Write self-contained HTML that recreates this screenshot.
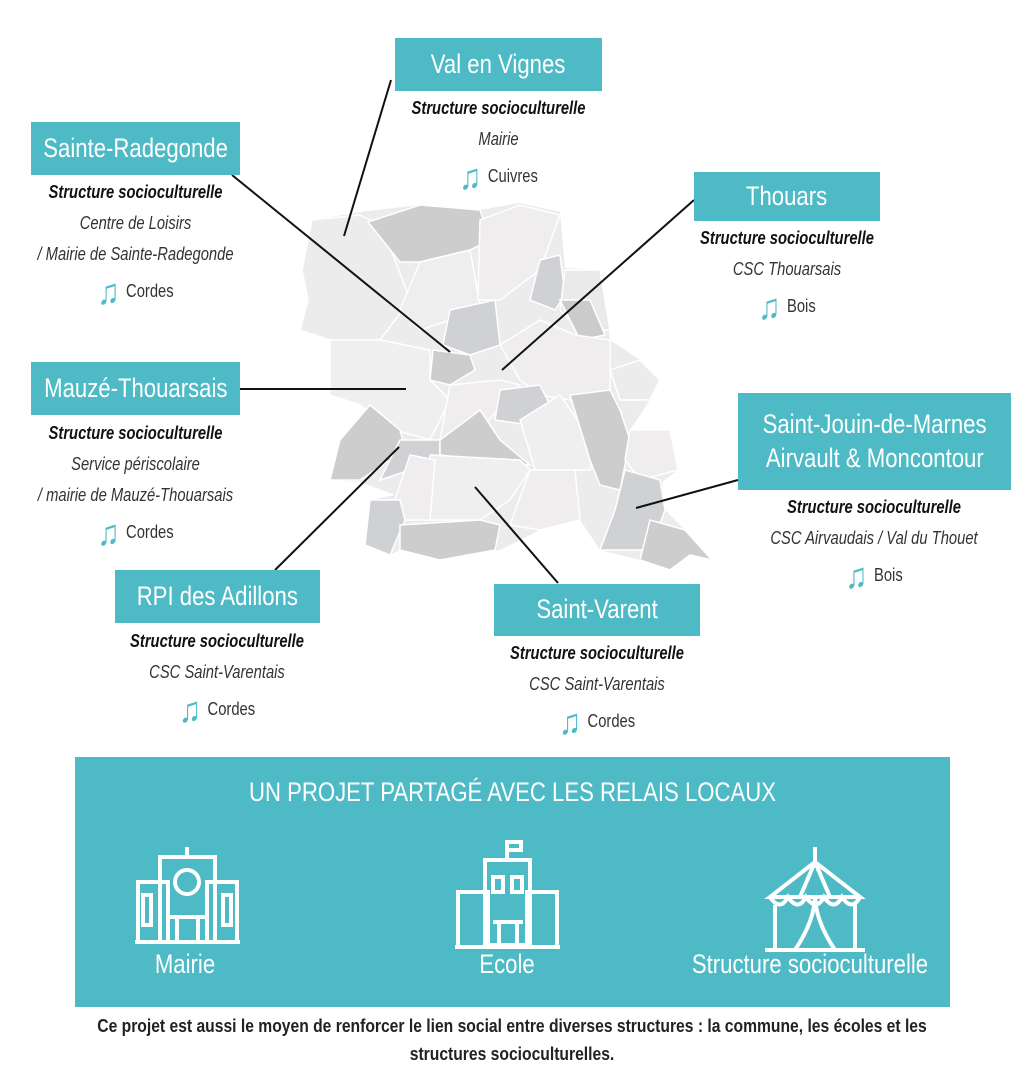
<!DOCTYPE html>
<html><head><meta charset="utf-8"><style>
body{margin:0;width:1024px;height:1080px;background:#fff;position:relative;overflow:hidden;font-family:"Liberation Sans",sans-serif;color:#222}
.box{position:absolute;background:#4dbac5;color:#fff;font-size:27px;text-align:center;display:flex;flex-direction:column;align-items:center;justify-content:center;line-height:1.25;white-space:nowrap}
.box span{display:inline-block;transform:scaleX(.82)}
.t{position:absolute;text-align:center;font-size:18px;line-height:31px;font-style:italic;color:#333;white-space:nowrap;transform:scaleX(.82);transform-origin:center top}
.t b{color:#111}
.n{font-style:normal;display:inline-flex;align-items:center;gap:8px;margin-top:6px}
.n i{color:#4dbac5;font-style:normal;font-size:36px;line-height:30px;font-weight:bold}
svg{position:absolute;left:0;top:0}
.lbl{position:absolute;text-align:center;font-size:27px;white-space:nowrap;transform:scaleX(.82)}
</style></head><body>
<svg width="1024" height="1080">
<polygon points="312,220 360,212 420,205 480,210 520,203 560,212 565,268 600,270 610,340 640,360 660,380 650,400 630,430 670,430 678,470 662,482 665,510 685,530 712,560 690,555 670,570 640,560 600,550 580,520 540,530 500,550 440,560 400,550 390,555 365,545 370,500 395,495 360,482 330,480 340,440 370,405 330,395 330,340 300,330 308,300 302,270" fill="#ececec"/>
<g stroke="#fff" stroke-width="1.5">
<polygon points="312,220 360,215 380,225 395,260 410,300 395,320 380,340 360,360 330,340 300,330 308,300 302,270" fill="#ececec"/>
<polygon points="368,222 420,205 480,210 490,240 470,250 420,262 400,262" fill="#cdcdcd"/>
<polygon points="420,262 470,250 480,305 450,320 420,330 400,310" fill="#eeeeee"/>
<polygon points="480,220 520,205 560,215 540,270 500,300 478,300" fill="#efedee"/>
<polygon points="540,260 560,255 565,295 555,310 530,300" fill="#d0d1d4"/>
<polygon points="565,270 600,270 610,330 580,330 560,310" fill="#eaeaea"/>
<polygon points="560,300 590,300 605,335 580,340" fill="#cbcbcb"/>
<polygon points="450,310 495,300 500,345 470,355 443,345" fill="#d0d1d4"/>
<polygon points="433,350 470,355 475,370 450,385 430,380" fill="#cdcdcd"/>
<polygon points="500,345 540,320 575,335 610,340 610,390 570,400 540,395 520,380" fill="#efedee"/>
<polygon points="330,340 380,340 430,350 430,380 450,400 430,440 395,430 360,405 330,395" fill="#efefef"/>
<polygon points="450,385 500,380 520,385 480,430 440,440" fill="#efedee"/>
<polygon points="500,390 540,385 550,405 530,425 495,420" fill="#d0d1d4"/>
<polygon points="370,405 400,430 405,450 360,480 330,480 340,440" fill="#cdcdcd"/>
<polygon points="400,440 440,440 440,455 410,470 380,480" fill="#d0d1d4"/>
<polygon points="440,440 480,410 500,440 530,465 440,455" fill="#cdcdcd"/>
<polygon points="520,420 560,395 595,445 590,470 535,470" fill="#efefef"/>
<polygon points="570,395 610,390 620,410 630,440 620,490 600,485 590,460" fill="#cdcdcd"/>
<polygon points="610,370 640,360 660,380 650,400 620,400" fill="#ececec"/>
<polygon points="630,430 670,430 678,470 640,480 625,460" fill="#efedee"/>
<polygon points="625,470 660,480 665,510 650,550 600,550 615,510" fill="#d0d1d4"/>
<polygon points="650,520 685,530 712,560 690,555 670,570 640,560" fill="#cdcdcd"/>
<polygon points="430,455 520,460 530,470 510,500 480,520 425,520" fill="#efefef"/>
<polygon points="410,455 435,460 430,520 400,520 395,500" fill="#efedee"/>
<polygon points="530,470 575,470 580,520 540,530 510,525" fill="#efedee"/>
<polygon points="370,500 400,500 405,520 390,555 365,545" fill="#d0d1d4"/>
<polygon points="400,525 480,520 500,525 495,550 440,560 400,550" fill="#cdcdcd"/>
</g>
<g stroke="#111" stroke-width="2">
<line x1="391" y1="80" x2="344" y2="236"/>
<line x1="232" y1="175" x2="450" y2="352"/>
<line x1="694" y1="200" x2="502" y2="370"/>
<line x1="240" y1="389" x2="406" y2="389"/>
<line x1="275" y1="570" x2="399" y2="447"/>
<line x1="558" y1="583" x2="475" y2="487"/>
<line x1="738" y1="480" x2="636" y2="508"/>
</g>
</svg>
<div class="box" style="left:395px;top:38px;width:207px;height:53px"><span>Val en Vignes</span></div>
<div class="t" style="left:370px;top:93px;width:257px"><b>Structure socioculturelle</b><br>Mairie<br><span class="n"><i>♫</i>Cuivres</span></div>
<div class="box" style="left:31px;top:122px;width:209px;height:53px"><span>Sainte-Radegonde</span></div>
<div class="t" style="left:0;top:177px;width:271px"><b>Structure socioculturelle</b><br>Centre de Loisirs<br>/ Mairie de Sainte-Radegonde<br><span class="n"><i>♫</i>Cordes</span></div>
<div class="box" style="left:694px;top:172px;width:186px;height:49px"><span>Thouars</span></div>
<div class="t" style="left:657px;top:223px;width:260px"><b>Structure socioculturelle</b><br>CSC Thouarsais<br><span class="n"><i>♫</i>Bois</span></div>
<div class="box" style="left:31px;top:362px;width:209px;height:53px"><span>Mauzé-Thouarsais</span></div>
<div class="t" style="left:0;top:418px;width:271px"><b>Structure socioculturelle</b><br>Service périscolaire<br>/ mairie de Mauzé-Thouarsais<br><span class="n"><i>♫</i>Cordes</span></div>
<div class="box" style="left:738px;top:393px;width:273px;height:97px"><span>Saint-Jouin-de-Marnes</span><span>Airvault &amp; Moncontour</span></div>
<div class="t" style="left:744px;top:492px;width:260px"><b>Structure socioculturelle</b><br>CSC Airvaudais / Val du Thouet<br><span class="n"><i>♫</i>Bois</span></div>
<div class="box" style="left:115px;top:570px;width:205px;height:53px"><span>RPI des Adillons</span></div>
<div class="t" style="left:87px;top:626px;width:260px"><b>Structure socioculturelle</b><br>CSC Saint-Varentais<br><span class="n"><i>♫</i>Cordes</span></div>
<div class="box" style="left:494px;top:584px;width:206px;height:52px"><span>Saint-Varent</span></div>
<div class="t" style="left:467px;top:638px;width:260px"><b>Structure socioculturelle</b><br>CSC Saint-Varentais<br><span class="n"><i>♫</i>Cordes</span></div>
<div style="position:absolute;left:75px;top:757px;width:875px;height:250px;background:#4dbac5;color:#fff">
<div class="lbl" style="top:20px;left:0;width:100%">UN PROJET PARTAGÉ AVEC LES RELAIS LOCAUX</div>
<svg width="875" height="250" style="left:0;top:0" fill="none" stroke="#fff" stroke-width="4">
<g transform="translate(60,80)"><rect x="25" y="20" width="55" height="85"/><rect x="3" y="45" width="30" height="60"/><rect x="72" y="45" width="30" height="60"/><circle cx="52" cy="45" r="12"/><path d="M35 80 h35 M42 80 v25 M63 80 v25 M52 10 v10 M0 105 h105"/><rect x="8" y="58" width="8" height="30"/><rect x="88" y="58" width="8" height="30"/></g>
<g transform="translate(380,85)"><rect x="30" y="18" width="45" height="85"/><rect x="3" y="50" width="30" height="55"/><rect x="72" y="50" width="30" height="55"/><path d="M52 18 v-18 h14 v8 h-14 M38 80 h30 M44 80 v25 M62 80 v25 M0 105 h105"/><rect x="38" y="35" width="10" height="15"/><rect x="57" y="35" width="10" height="15"/></g>
<g transform="translate(690,90)"><path d="M50 0 v15 M50 15 L5 50 h90 Z M5 50 q10 15 18 0 q10 15 18 0 q10 15 18 0 q10 15 18 0 q10 15 18 0 M10 58 v45 M90 58 v45 M0 103 h100 M30 103 q20 -30 20 -55 q0 25 20 55 M50 15 l-15 35 M50 15 l15 35"/></g>
</svg>
<div class="lbl" style="top:192px;left:50px;width:120px">Mairie</div>
<div class="lbl" style="top:192px;left:372px;width:120px">Ecole</div>
<div class="lbl" style="top:192px;left:585px;width:300px">Structure socioculturelle</div>
</div>
<div style="position:absolute;left:0;top:1012px;width:1024px;text-align:center;font-size:18px;line-height:28px;font-weight:bold;color:#222;white-space:nowrap;transform:scaleX(.87)">Ce projet est aussi le moyen de renforcer le lien social entre diverses structures : la commune, les écoles et les<br>structures socioculturelles.</div>
</body></html>
